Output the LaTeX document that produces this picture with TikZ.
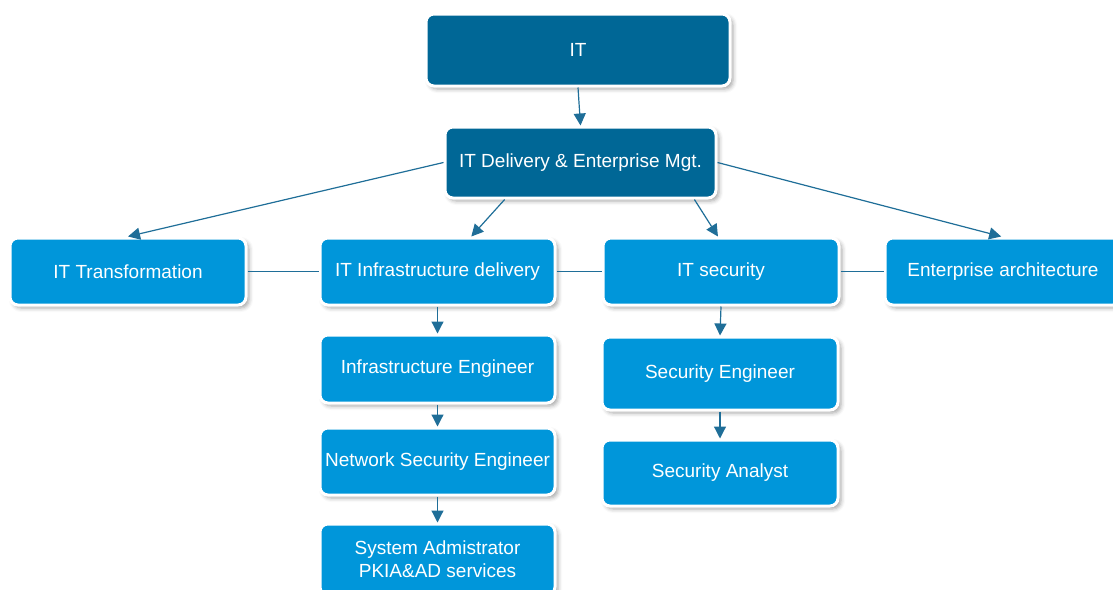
\documentclass[tikz,border=0pt]{standalone}
\usepackage{fontspec}
\setmainfont{Liberation Sans}
\usetikzlibrary{arrows.meta,shadows.blur}
\definecolor{headColor}{RGB}{0,103,150}
\definecolor{unitColor}{RGB}{0,150,218}
\definecolor{lineColor}{RGB}{31,110,152}
\tikzstyle{orgChart} = [x = .5pt, y = -.5pt]
\tikzstyle{boxStyle} = [draw=white, line width=1.5pt, rounded corners=4pt, text=white, align=center, inner sep=0pt,
  font=\fontsize{9.5}{11.5}\selectfont,
  blur shadow={shadow xshift=1.5pt, shadow yshift=-1.5pt, shadow blur radius=2pt, shadow opacity=35}]
\tikzstyle{headBox} = [boxStyle, fill=headColor]
\tikzstyle{unitBox} = [boxStyle, fill=unitColor]
\tikzstyle{linkLine} = [color=lineColor, line width=.6pt]
\tikzstyle{linkArrow} = [linkLine, -{Triangle[length=6pt, width=6pt]}]
% style, name, x, y, width, height, text (sizes in pixels of the chart)
\newcommand{\orgBox}[7]{\node [#1, minimum width = #5 * .5pt, minimum height = #6 * .5pt] (#2) at (#3, #4) {#7};}

\begin{document}
\begin{tikzpicture}[orgChart]
  \useasboundingbox (0,0) rectangle (1113,589);
  \clip (0,0) rectangle (1113,589);

  % top of the chart
  \orgBox{headBox}{it}{578}{50}{304}{72}{IT}
  \orgBox{headBox}{delivery}{580.5}{162.5}{271}{71}{IT Delivery \& Enterprise Mgt.}

  % departments
  \orgBox{unitBox}{itTrans}{128}{271.5}{236}{67}{IT Transformation}
  \orgBox{unitBox}{infra}{437.5}{271.5}{235}{67}{IT Infrastructure delivery}
  \orgBox{unitBox}{security}{721}{271.5}{236}{67}{IT security}
  \orgBox{unitBox}{enterprise}{1003}{271.5}{236}{67}{Enterprise architecture}

  % infrastructure roles
  \orgBox{unitBox}{infraEng}{437.5}{369}{235}{68}{Infrastructure Engineer}
  \orgBox{unitBox}{netSec}{437.5}{461.5}{235}{67}{Network Security Engineer}
  \orgBox{unitBox}{sysAdmin}{437.5}{559.5}{235}{71}{System Admistrator\\PKIA\&AD services}

  % security roles
  \orgBox{unitBox}{secEng}{720}{373.5}{236}{73}{Security Engineer}
  \orgBox{unitBox}{secAnalyst}{720}{473}{236}{66}{Security Analyst}

  \draw [linkArrow] (it.south) -- (delivery.north);
  \draw [linkArrow] (delivery.west) -- (itTrans.north);
  \draw [linkArrow] (delivery.206) -- (infra.46);
  \draw [linkArrow] (delivery.342) -- (security.95);
  \draw [linkArrow] (delivery.east) -- (enterprise.93);

  \draw [linkLine] (itTrans.east) -- (infra.west);
  \draw [linkLine] (infra.east) -- (security.west);
  \draw [linkLine] (security.east) -- (enterprise.west);

  \draw [linkArrow] (infra.south) -- (infraEng.north);
  \draw [linkArrow] (infraEng.south) -- (netSec.north);
  \draw [linkArrow] (netSec.south) -- (sysAdmin.north);
  \draw [linkArrow] (security.south) -- (secEng.north);
  \draw [linkArrow] (secEng.south) -- (secAnalyst.north);
\end{tikzpicture}
\end{document}
